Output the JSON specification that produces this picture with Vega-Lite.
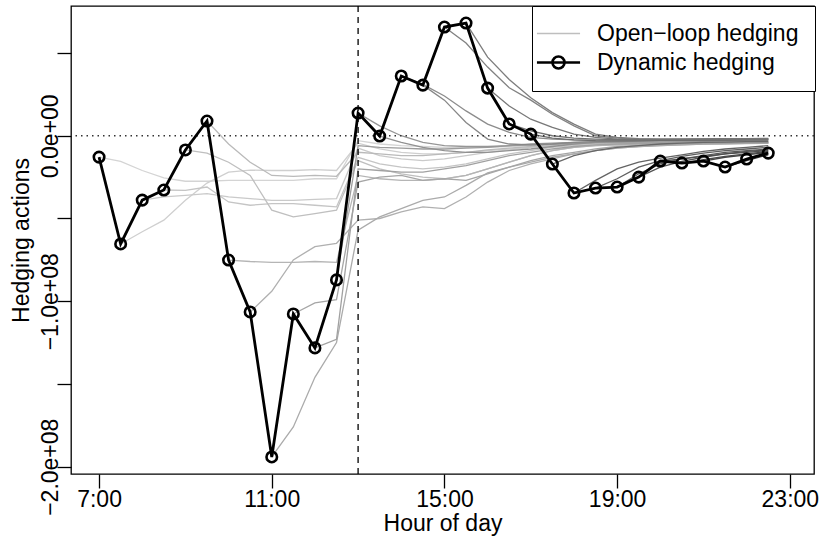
{
"$schema":"https://vega.github.io/schema/vega-lite/v6.json",
"width":743,"height":468,
"autosize":{"type":"none"},
"padding":{"left":71,"top":6,"right":7,"bottom":71},
"background":"white",
"config":{
"view":{"stroke":"black","strokeWidth":1.3},
"font":"Liberation Sans",
"axis":{"grid":false,"domain":false,"tickColor":"black","tickWidth":1.3,"tickSize":14,"labelFont":"Liberation Sans","labelFontSize":23,"labelColor":"black","titleFont":"Liberation Sans","titleFontSize":23,"titleFontWeight":"normal","titleColor":"black"}
},
"data":{"values":[{}]},
"datasets":{
"dyn":[
{"kind":"Dynamic hedging","t":7,"v":-0.129e8},{"kind":"Dynamic hedging","t":7.5,"v":-0.654e8},{"kind":"Dynamic hedging","t":8,"v":-0.389e8},{"kind":"Dynamic hedging","t":8.5,"v":-0.328e8},
{"kind":"Dynamic hedging","t":9,"v":-0.086e8},{"kind":"Dynamic hedging","t":9.5,"v":0.089e8},{"kind":"Dynamic hedging","t":10,"v":-0.751e8},{"kind":"Dynamic hedging","t":10.5,"v":-1.065e8},
{"kind":"Dynamic hedging","t":11,"v":-1.941e8},{"kind":"Dynamic hedging","t":11.5,"v":-1.077e8},{"kind":"Dynamic hedging","t":12,"v":-1.282e8},{"kind":"Dynamic hedging","t":12.5,"v":-0.871e8},
{"kind":"Dynamic hedging","t":13,"v":0.137e8},{"kind":"Dynamic hedging","t":13.5,"v":-0.002e8},{"kind":"Dynamic hedging","t":14,"v":0.361e8},{"kind":"Dynamic hedging","t":14.5,"v":0.306e8},
{"kind":"Dynamic hedging","t":15,"v":0.657e8},{"kind":"Dynamic hedging","t":15.5,"v":0.681e8},{"kind":"Dynamic hedging","t":16,"v":0.288e8},{"kind":"Dynamic hedging","t":16.5,"v":0.071e8},
{"kind":"Dynamic hedging","t":17,"v":0.010e8},{"kind":"Dynamic hedging","t":17.5,"v":-0.171e8},{"kind":"Dynamic hedging","t":18,"v":-0.346e8},{"kind":"Dynamic hedging","t":18.5,"v":-0.316e8},
{"kind":"Dynamic hedging","t":19,"v":-0.310e8},{"kind":"Dynamic hedging","t":19.5,"v":-0.250e8},{"kind":"Dynamic hedging","t":20,"v":-0.153e8},{"kind":"Dynamic hedging","t":20.5,"v":-0.165e8},
{"kind":"Dynamic hedging","t":21,"v":-0.153e8},{"kind":"Dynamic hedging","t":21.5,"v":-0.189e8},{"kind":"Dynamic hedging","t":22,"v":-0.141e8},{"kind":"Dynamic hedging","t":22.5,"v":-0.105e8}
],
"open":[
{"s":7,"t":7,"v":-0.129e8},{"s":7,"t":7.5,"v":-0.155e8},{"s":7,"t":8,"v":-0.21e8},{"s":7,"t":8.5,"v":-0.255e8},{"s":7,"t":9,"v":-0.275e8},{"s":7,"t":9.5,"v":-0.275e8},{"s":7,"t":10,"v":-0.27e8},{"s":7,"t":10.5,"v":-0.27e8},{"s":7,"t":11,"v":-0.27e8},{"s":7,"t":11.5,"v":-0.27e8},{"s":7,"t":12,"v":-0.26e8},{"s":7,"t":12.5,"v":-0.26e8},{"s":7,"t":13,"v":-0.03e8},{"s":7,"t":13.5,"v":-0.05e8},{"s":7,"t":14,"v":-0.06e8},{"s":7,"t":14.5,"v":-0.065e8},{"s":7,"t":15,"v":-0.07e8},{"s":7,"t":15.5,"v":-0.07e8},{"s":7,"t":16,"v":-0.07e8},{"s":7,"t":16.5,"v":-0.065e8},{"s":7,"t":17,"v":-0.06e8},{"s":7,"t":17.5,"v":-0.055e8},{"s":7,"t":18,"v":-0.05e8},{"s":7,"t":18.5,"v":-0.05e8},{"s":7,"t":19,"v":-0.048e8},{"s":7,"t":19.5,"v":-0.047e8},{"s":7,"t":20,"v":-0.046e8},{"s":7,"t":20.5,"v":-0.045e8},{"s":7,"t":21,"v":-0.044e8},{"s":7,"t":21.5,"v":-0.043e8},{"s":7,"t":22,"v":-0.042e8},{"s":7,"t":22.5,"v":-0.041e8},
{"s":7.5,"t":7.5,"v":-0.654e8},{"s":7.5,"t":8,"v":-0.58e8},{"s":7.5,"t":8.5,"v":-0.51e8},{"s":7.5,"t":9,"v":-0.39e8},{"s":7.5,"t":9.5,"v":-0.286e8},{"s":7.5,"t":10,"v":-0.22e8},{"s":7.5,"t":10.5,"v":-0.208e8},{"s":7.5,"t":11,"v":-0.21e8},{"s":7.5,"t":11.5,"v":-0.21e8},{"s":7.5,"t":12,"v":-0.205e8},{"s":7.5,"t":12.5,"v":-0.21e8},{"s":7.5,"t":13,"v":-0.045e8},{"s":7.5,"t":13.5,"v":-0.08e8},{"s":7.5,"t":14,"v":-0.10e8},{"s":7.5,"t":14.5,"v":-0.11e8},{"s":7.5,"t":15,"v":-0.11e8},{"s":7.5,"t":15.5,"v":-0.10e8},{"s":7.5,"t":16,"v":-0.09e8},{"s":7.5,"t":16.5,"v":-0.08e8},{"s":7.5,"t":17,"v":-0.07e8},{"s":7.5,"t":17.5,"v":-0.06e8},{"s":7.5,"t":18,"v":-0.055e8},{"s":7.5,"t":18.5,"v":-0.05e8},{"s":7.5,"t":19,"v":-0.048e8},{"s":7.5,"t":19.5,"v":-0.046e8},{"s":7.5,"t":20,"v":-0.045e8},{"s":7.5,"t":20.5,"v":-0.044e8},{"s":7.5,"t":21,"v":-0.043e8},{"s":7.5,"t":21.5,"v":-0.042e8},{"s":7.5,"t":22,"v":-0.041e8},{"s":7.5,"t":22.5,"v":-0.04e8},
{"s":8,"t":8,"v":-0.389e8},{"s":8,"t":8.5,"v":-0.37e8},{"s":8,"t":9,"v":-0.36e8},{"s":8,"t":9.5,"v":-0.35e8},{"s":8,"t":10,"v":-0.37e8},{"s":8,"t":10.5,"v":-0.38e8},{"s":8,"t":11,"v":-0.39e8},{"s":8,"t":11.5,"v":-0.39e8},{"s":8,"t":12,"v":-0.385e8},{"s":8,"t":12.5,"v":-0.38e8},{"s":8,"t":13,"v":-0.075e8},{"s":8,"t":13.5,"v":-0.12e8},{"s":8,"t":14,"v":-0.14e8},{"s":8,"t":14.5,"v":-0.15e8},{"s":8,"t":15,"v":-0.14e8},{"s":8,"t":15.5,"v":-0.12e8},{"s":8,"t":16,"v":-0.10e8},{"s":8,"t":16.5,"v":-0.085e8},{"s":8,"t":17,"v":-0.07e8},{"s":8,"t":17.5,"v":-0.06e8},{"s":8,"t":18,"v":-0.055e8},{"s":8,"t":18.5,"v":-0.05e8},{"s":8,"t":19,"v":-0.048e8},{"s":8,"t":19.5,"v":-0.046e8},{"s":8,"t":20,"v":-0.045e8},{"s":8,"t":20.5,"v":-0.044e8},{"s":8,"t":21,"v":-0.043e8},{"s":8,"t":21.5,"v":-0.042e8},{"s":8,"t":22,"v":-0.041e8},{"s":8,"t":22.5,"v":-0.04e8},
{"s":8.5,"t":8.5,"v":-0.328e8},{"s":8.5,"t":9,"v":-0.33e8},{"s":8.5,"t":9.5,"v":-0.31e8},{"s":8.5,"t":10,"v":-0.40e8},{"s":8.5,"t":10.5,"v":-0.42e8},{"s":8.5,"t":11,"v":-0.41e8},{"s":8.5,"t":11.5,"v":-0.41e8},{"s":8.5,"t":12,"v":-0.42e8},{"s":8.5,"t":12.5,"v":-0.43e8},{"s":8.5,"t":13,"v":-0.13e8},{"s":8.5,"t":13.5,"v":-0.17e8},{"s":8.5,"t":14,"v":-0.19e8},{"s":8.5,"t":14.5,"v":-0.20e8},{"s":8.5,"t":15,"v":-0.19e8},{"s":8.5,"t":15.5,"v":-0.17e8},{"s":8.5,"t":16,"v":-0.14e8},{"s":8.5,"t":16.5,"v":-0.11e8},{"s":8.5,"t":17,"v":-0.09e8},{"s":8.5,"t":17.5,"v":-0.07e8},{"s":8.5,"t":18,"v":-0.06e8},{"s":8.5,"t":18.5,"v":-0.055e8},{"s":8.5,"t":19,"v":-0.05e8},{"s":8.5,"t":19.5,"v":-0.048e8},{"s":8.5,"t":20,"v":-0.047e8},{"s":8.5,"t":20.5,"v":-0.046e8},{"s":8.5,"t":21,"v":-0.045e8},{"s":8.5,"t":21.5,"v":-0.044e8},{"s":8.5,"t":22,"v":-0.043e8},{"s":8.5,"t":22.5,"v":-0.042e8},
{"s":9,"t":9,"v":-0.086e8},{"s":9,"t":9.5,"v":-0.105e8},{"s":9,"t":10,"v":-0.16e8},{"s":9,"t":10.5,"v":-0.24e8},{"s":9,"t":11,"v":-0.45e8},{"s":9,"t":11.5,"v":-0.49e8},{"s":9,"t":12,"v":-0.47e8},{"s":9,"t":12.5,"v":-0.45e8},{"s":9,"t":13,"v":-0.15e8},{"s":9,"t":13.5,"v":-0.20e8},{"s":9,"t":14,"v":-0.23e8},{"s":9,"t":14.5,"v":-0.25e8},{"s":9,"t":15,"v":-0.26e8},{"s":9,"t":15.5,"v":-0.24e8},{"s":9,"t":16,"v":-0.20e8},{"s":9,"t":16.5,"v":-0.16e8},{"s":9,"t":17,"v":-0.12e8},{"s":9,"t":17.5,"v":-0.09e8},{"s":9,"t":18,"v":-0.07e8},{"s":9,"t":18.5,"v":-0.06e8},{"s":9,"t":19,"v":-0.055e8},{"s":9,"t":19.5,"v":-0.05e8},{"s":9,"t":20,"v":-0.048e8},{"s":9,"t":20.5,"v":-0.047e8},{"s":9,"t":21,"v":-0.046e8},{"s":9,"t":21.5,"v":-0.045e8},{"s":9,"t":22,"v":-0.044e8},{"s":9,"t":22.5,"v":-0.043e8},
{"s":9.5,"t":9.5,"v":0.089e8},{"s":9.5,"t":10,"v":-0.05e8},{"s":9.5,"t":10.5,"v":-0.16e8},{"s":9.5,"t":11,"v":-0.24e8},{"s":9.5,"t":11.5,"v":-0.245e8},{"s":9.5,"t":12,"v":-0.24e8},{"s":9.5,"t":12.5,"v":-0.245e8},{"s":9.5,"t":13,"v":-0.10e8},{"s":9.5,"t":13.5,"v":-0.11e8},{"s":9.5,"t":14,"v":-0.12e8},{"s":9.5,"t":14.5,"v":-0.12e8},{"s":9.5,"t":15,"v":-0.11e8},{"s":9.5,"t":15.5,"v":-0.10e8},{"s":9.5,"t":16,"v":-0.085e8},{"s":9.5,"t":16.5,"v":-0.075e8},{"s":9.5,"t":17,"v":-0.065e8},{"s":9.5,"t":17.5,"v":-0.055e8},{"s":9.5,"t":18,"v":-0.05e8},{"s":9.5,"t":18.5,"v":-0.046e8},{"s":9.5,"t":19,"v":-0.044e8},{"s":9.5,"t":19.5,"v":-0.042e8},{"s":9.5,"t":20,"v":-0.041e8},{"s":9.5,"t":20.5,"v":-0.04e8},{"s":9.5,"t":21,"v":-0.039e8},{"s":9.5,"t":21.5,"v":-0.038e8},{"s":9.5,"t":22,"v":-0.037e8},{"s":9.5,"t":22.5,"v":-0.036e8},
{"s":10,"t":10,"v":-0.751e8},{"s":10,"t":10.5,"v":-0.76e8},{"s":10,"t":11,"v":-0.765e8},{"s":10,"t":11.5,"v":-0.765e8},{"s":10,"t":12,"v":-0.76e8},{"s":10,"t":12.5,"v":-0.765e8},{"s":10,"t":13,"v":-0.24e8},{"s":10,"t":13.5,"v":-0.26e8},{"s":10,"t":14,"v":-0.27e8},{"s":10,"t":14.5,"v":-0.27e8},{"s":10,"t":15,"v":-0.26e8},{"s":10,"t":15.5,"v":-0.24e8},{"s":10,"t":16,"v":-0.20e8},{"s":10,"t":16.5,"v":-0.16e8},{"s":10,"t":17,"v":-0.12e8},{"s":10,"t":17.5,"v":-0.09e8},{"s":10,"t":18,"v":-0.07e8},{"s":10,"t":18.5,"v":-0.06e8},{"s":10,"t":19,"v":-0.055e8},{"s":10,"t":19.5,"v":-0.05e8},{"s":10,"t":20,"v":-0.048e8},{"s":10,"t":20.5,"v":-0.047e8},{"s":10,"t":21,"v":-0.046e8},{"s":10,"t":21.5,"v":-0.045e8},{"s":10,"t":22,"v":-0.044e8},{"s":10,"t":22.5,"v":-0.043e8},
{"s":10.5,"t":10.5,"v":-1.065e8},{"s":10.5,"t":11,"v":-0.94e8},{"s":10.5,"t":11.5,"v":-0.75e8},{"s":10.5,"t":12,"v":-0.67e8},{"s":10.5,"t":12.5,"v":-0.65e8},{"s":10.5,"t":13,"v":-0.51e8},{"s":10.5,"t":13.5,"v":-0.50e8},{"s":10.5,"t":14,"v":-0.46e8},{"s":10.5,"t":14.5,"v":-0.43e8},{"s":10.5,"t":15,"v":-0.44e8},{"s":10.5,"t":15.5,"v":-0.37e8},{"s":10.5,"t":16,"v":-0.28e8},{"s":10.5,"t":16.5,"v":-0.21e8},{"s":10.5,"t":17,"v":-0.17e8},{"s":10.5,"t":17.5,"v":-0.14e8},{"s":10.5,"t":18,"v":-0.11e8},{"s":10.5,"t":18.5,"v":-0.09e8},{"s":10.5,"t":19,"v":-0.075e8},{"s":10.5,"t":19.5,"v":-0.065e8},{"s":10.5,"t":20,"v":-0.06e8},{"s":10.5,"t":20.5,"v":-0.055e8},{"s":10.5,"t":21,"v":-0.05e8},{"s":10.5,"t":21.5,"v":-0.05e8},{"s":10.5,"t":22,"v":-0.048e8},{"s":10.5,"t":22.5,"v":-0.046e8},
{"s":11,"t":11,"v":-1.941e8},{"s":11,"t":11.5,"v":-1.76e8},{"s":11,"t":12,"v":-1.46e8},{"s":11,"t":12.5,"v":-1.25e8},{"s":11,"t":13,"v":-0.57e8},{"s":11,"t":13.5,"v":-0.49e8},{"s":11,"t":14,"v":-0.44e8},{"s":11,"t":14.5,"v":-0.39e8},{"s":11,"t":15,"v":-0.37e8},{"s":11,"t":15.5,"v":-0.30e8},{"s":11,"t":16,"v":-0.225e8},{"s":11,"t":16.5,"v":-0.19e8},{"s":11,"t":17,"v":-0.16e8},{"s":11,"t":17.5,"v":-0.13e8},{"s":11,"t":18,"v":-0.11e8},{"s":11,"t":18.5,"v":-0.09e8},{"s":11,"t":19,"v":-0.075e8},{"s":11,"t":19.5,"v":-0.065e8},{"s":11,"t":20,"v":-0.06e8},{"s":11,"t":20.5,"v":-0.055e8},{"s":11,"t":21,"v":-0.05e8},{"s":11,"t":21.5,"v":-0.048e8},{"s":11,"t":22,"v":-0.046e8},{"s":11,"t":22.5,"v":-0.045e8},
{"s":11.5,"t":11.5,"v":-1.077e8},{"s":11.5,"t":12,"v":-1.01e8},{"s":11.5,"t":12.5,"v":-0.99e8},{"s":11.5,"t":13,"v":-0.28e8},{"s":11.5,"t":13.5,"v":-0.25e8},{"s":11.5,"t":14,"v":-0.24e8},{"s":11.5,"t":14.5,"v":-0.27e8},{"s":11.5,"t":15,"v":-0.26e8},{"s":11.5,"t":15.5,"v":-0.27e8},{"s":11.5,"t":16,"v":-0.23e8},{"s":11.5,"t":16.5,"v":-0.19e8},{"s":11.5,"t":17,"v":-0.15e8},{"s":11.5,"t":17.5,"v":-0.12e8},{"s":11.5,"t":18,"v":-0.10e8},{"s":11.5,"t":18.5,"v":-0.08e8},{"s":11.5,"t":19,"v":-0.065e8},{"s":11.5,"t":19.5,"v":-0.058e8},{"s":11.5,"t":20,"v":-0.054e8},{"s":11.5,"t":20.5,"v":-0.05e8},{"s":11.5,"t":21,"v":-0.048e8},{"s":11.5,"t":21.5,"v":-0.046e8},{"s":11.5,"t":22,"v":-0.045e8},{"s":11.5,"t":22.5,"v":-0.044e8},
{"s":12,"t":12,"v":-1.282e8},{"s":12,"t":12.5,"v":-1.23e8},{"s":12,"t":13,"v":-0.20e8},{"s":12,"t":13.5,"v":-0.21e8},{"s":12,"t":14,"v":-0.22e8},{"s":12,"t":14.5,"v":-0.22e8},{"s":12,"t":15,"v":-0.20e8},{"s":12,"t":15.5,"v":-0.18e8},{"s":12,"t":16,"v":-0.15e8},{"s":12,"t":16.5,"v":-0.12e8},{"s":12,"t":17,"v":-0.10e8},{"s":12,"t":17.5,"v":-0.08e8},{"s":12,"t":18,"v":-0.065e8},{"s":12,"t":18.5,"v":-0.055e8},{"s":12,"t":19,"v":-0.05e8},{"s":12,"t":19.5,"v":-0.047e8},{"s":12,"t":20,"v":-0.045e8},{"s":12,"t":20.5,"v":-0.044e8},{"s":12,"t":21,"v":-0.043e8},{"s":12,"t":21.5,"v":-0.042e8},{"s":12,"t":22,"v":-0.041e8},{"s":12,"t":22.5,"v":-0.04e8},
{"s":12.5,"t":12.5,"v":-0.871e8},{"s":12.5,"t":13,"v":-0.06e8},{"s":12.5,"t":13.5,"v":-0.07e8},{"s":12.5,"t":14,"v":-0.075e8},{"s":12.5,"t":14.5,"v":-0.08e8},{"s":12.5,"t":15,"v":-0.08e8},{"s":12.5,"t":15.5,"v":-0.075e8},{"s":12.5,"t":16,"v":-0.07e8},{"s":12.5,"t":16.5,"v":-0.06e8},{"s":12.5,"t":17,"v":-0.055e8},{"s":12.5,"t":17.5,"v":-0.05e8},{"s":12.5,"t":18,"v":-0.045e8},{"s":12.5,"t":18.5,"v":-0.042e8},{"s":12.5,"t":19,"v":-0.04e8},{"s":12.5,"t":19.5,"v":-0.039e8},{"s":12.5,"t":20,"v":-0.038e8},{"s":12.5,"t":20.5,"v":-0.037e8},{"s":12.5,"t":21,"v":-0.036e8},{"s":12.5,"t":21.5,"v":-0.035e8},{"s":12.5,"t":22,"v":-0.034e8},{"s":12.5,"t":22.5,"v":-0.033e8},
{"s":13,"t":13,"v":0.137e8},{"s":13,"t":13.5,"v":0.06e8},{"s":13,"t":14,"v":0},{"s":13,"t":14.5,"v":-0.04e8},{"s":13,"t":15,"v":-0.06e8},{"s":13,"t":15.5,"v":-0.065e8},{"s":13,"t":16,"v":-0.065e8},{"s":13,"t":16.5,"v":-0.06e8},{"s":13,"t":17,"v":-0.05e8},{"s":13,"t":17.5,"v":-0.045e8},{"s":13,"t":18,"v":-0.04e8},{"s":13,"t":18.5,"v":-0.035e8},{"s":13,"t":19,"v":-0.032e8},{"s":13,"t":19.5,"v":-0.03e8},{"s":13,"t":20,"v":-0.028e8},{"s":13,"t":20.5,"v":-0.027e8},{"s":13,"t":21,"v":-0.026e8},{"s":13,"t":21.5,"v":-0.025e8},{"s":13,"t":22,"v":-0.024e8},{"s":13,"t":22.5,"v":-0.023e8},
{"s":13.5,"t":13.5,"v":-0.002e8},{"s":13.5,"t":14,"v":-0.04e8},{"s":13.5,"t":14.5,"v":-0.07e8},{"s":13.5,"t":15,"v":-0.09e8},{"s":13.5,"t":15.5,"v":-0.10e8},{"s":13.5,"t":16,"v":-0.10e8},{"s":13.5,"t":16.5,"v":-0.09e8},{"s":13.5,"t":17,"v":-0.08e8},{"s":13.5,"t":17.5,"v":-0.065e8},{"s":13.5,"t":18,"v":-0.05e8},{"s":13.5,"t":18.5,"v":-0.04e8},{"s":13.5,"t":19,"v":-0.035e8},{"s":13.5,"t":19.5,"v":-0.032e8},{"s":13.5,"t":20,"v":-0.03e8},{"s":13.5,"t":20.5,"v":-0.029e8},{"s":13.5,"t":21,"v":-0.028e8},{"s":13.5,"t":21.5,"v":-0.027e8},{"s":13.5,"t":22,"v":-0.026e8},{"s":13.5,"t":22.5,"v":-0.025e8},
{"s":14,"t":14,"v":0.361e8},{"s":14,"t":14.5,"v":0.31e8},{"s":14,"t":15,"v":0.24e8},{"s":14,"t":15.5,"v":0.15e8},{"s":14,"t":16,"v":0.07e8},{"s":14,"t":16.5,"v":0.02e8},{"s":14,"t":17,"v":-0.01e8},{"s":14,"t":17.5,"v":-0.02e8},{"s":14,"t":18,"v":-0.025e8},{"s":14,"t":18.5,"v":-0.027e8},{"s":14,"t":19,"v":-0.027e8},{"s":14,"t":19.5,"v":-0.026e8},{"s":14,"t":20,"v":-0.025e8},{"s":14,"t":20.5,"v":-0.024e8},{"s":14,"t":21,"v":-0.023e8},{"s":14,"t":21.5,"v":-0.022e8},{"s":14,"t":22,"v":-0.021e8},{"s":14,"t":22.5,"v":-0.02e8},
{"s":14.5,"t":14.5,"v":0.306e8},{"s":14.5,"t":15,"v":0.215e8},{"s":14.5,"t":15.5,"v":0.08e8},{"s":14.5,"t":16,"v":-0.02e8},{"s":14.5,"t":16.5,"v":-0.05e8},{"s":14.5,"t":17,"v":-0.055e8},{"s":14.5,"t":17.5,"v":-0.05e8},{"s":14.5,"t":18,"v":-0.04e8},{"s":14.5,"t":18.5,"v":-0.035e8},{"s":14.5,"t":19,"v":-0.032e8},{"s":14.5,"t":19.5,"v":-0.03e8},{"s":14.5,"t":20,"v":-0.029e8},{"s":14.5,"t":20.5,"v":-0.028e8},{"s":14.5,"t":21,"v":-0.027e8},{"s":14.5,"t":21.5,"v":-0.026e8},{"s":14.5,"t":22,"v":-0.025e8},{"s":14.5,"t":22.5,"v":-0.024e8},
{"s":15,"t":15,"v":0.657e8},{"s":15,"t":15.5,"v":0.56e8},{"s":15,"t":16,"v":0.415e8},{"s":15,"t":16.5,"v":0.29e8},{"s":15,"t":17,"v":0.215e8},{"s":15,"t":17.5,"v":0.13e8},{"s":15,"t":18,"v":0.06e8},{"s":15,"t":18.5,"v":0},{"s":15,"t":19,"v":-0.015e8},{"s":15,"t":19.5,"v":-0.02e8},{"s":15,"t":20,"v":-0.02e8},{"s":15,"t":20.5,"v":-0.02e8},{"s":15,"t":21,"v":-0.019e8},{"s":15,"t":21.5,"v":-0.018e8},{"s":15,"t":22,"v":-0.018e8},{"s":15,"t":22.5,"v":-0.017e8},
{"s":15.5,"t":15.5,"v":0.681e8},{"s":15.5,"t":16,"v":0.475e8},{"s":15.5,"t":16.5,"v":0.34e8},{"s":15.5,"t":17,"v":0.23e8},{"s":15.5,"t":17.5,"v":0.14e8},{"s":15.5,"t":18,"v":0.07e8},{"s":15.5,"t":18.5,"v":0.01e8},{"s":15.5,"t":19,"v":-0.01e8},{"s":15.5,"t":19.5,"v":-0.018e8},{"s":15.5,"t":20,"v":-0.02e8},{"s":15.5,"t":20.5,"v":-0.02e8},{"s":15.5,"t":21,"v":-0.019e8},{"s":15.5,"t":21.5,"v":-0.018e8},{"s":15.5,"t":22,"v":-0.017e8},{"s":15.5,"t":22.5,"v":-0.016e8},
{"s":16,"t":16,"v":0.288e8},{"s":16,"t":16.5,"v":0.18e8},{"s":16,"t":17,"v":0.10e8},{"s":16,"t":17.5,"v":0.05e8},{"s":16,"t":18,"v":0.01e8},{"s":16,"t":18.5,"v":-0.01e8},{"s":16,"t":19,"v":-0.02e8},{"s":16,"t":19.5,"v":-0.022e8},{"s":16,"t":20,"v":-0.022e8},{"s":16,"t":20.5,"v":-0.021e8},{"s":16,"t":21,"v":-0.02e8},{"s":16,"t":21.5,"v":-0.02e8},{"s":16,"t":22,"v":-0.019e8},{"s":16,"t":22.5,"v":-0.018e8},
{"s":16.5,"t":16.5,"v":0.071e8},{"s":16.5,"t":17,"v":0.03e8},{"s":16.5,"t":17.5,"v":0},{"s":16.5,"t":18,"v":-0.015e8},{"s":16.5,"t":18.5,"v":-0.02e8},{"s":16.5,"t":19,"v":-0.023e8},{"s":16.5,"t":19.5,"v":-0.024e8},{"s":16.5,"t":20,"v":-0.024e8},{"s":16.5,"t":20.5,"v":-0.023e8},{"s":16.5,"t":21,"v":-0.022e8},{"s":16.5,"t":21.5,"v":-0.021e8},{"s":16.5,"t":22,"v":-0.02e8},{"s":16.5,"t":22.5,"v":-0.02e8},
{"s":17,"t":17,"v":0.01e8},{"s":17,"t":17.5,"v":-0.015e8},{"s":17,"t":18,"v":-0.025e8},{"s":17,"t":18.5,"v":-0.03e8},{"s":17,"t":19,"v":-0.031e8},{"s":17,"t":19.5,"v":-0.031e8},{"s":17,"t":20,"v":-0.03e8},{"s":17,"t":20.5,"v":-0.03e8},{"s":17,"t":21,"v":-0.029e8},{"s":17,"t":21.5,"v":-0.028e8},{"s":17,"t":22,"v":-0.027e8},{"s":17,"t":22.5,"v":-0.026e8},
{"s":17.5,"t":17.5,"v":-0.171e8},{"s":17.5,"t":18,"v":-0.12e8},{"s":17.5,"t":18.5,"v":-0.09e8},{"s":17.5,"t":19,"v":-0.07e8},{"s":17.5,"t":19.5,"v":-0.06e8},{"s":17.5,"t":20,"v":-0.05e8},{"s":17.5,"t":20.5,"v":-0.045e8},{"s":17.5,"t":21,"v":-0.04e8},{"s":17.5,"t":21.5,"v":-0.038e8},{"s":17.5,"t":22,"v":-0.036e8},{"s":17.5,"t":22.5,"v":-0.035e8},
{"s":18,"t":18,"v":-0.346e8},{"s":18,"t":18.5,"v":-0.27e8},{"s":18,"t":19,"v":-0.20e8},{"s":18,"t":19.5,"v":-0.16e8},{"s":18,"t":20,"v":-0.135e8},{"s":18,"t":20.5,"v":-0.115e8},{"s":18,"t":21,"v":-0.095e8},{"s":18,"t":21.5,"v":-0.08e8},{"s":18,"t":22,"v":-0.07e8},{"s":18,"t":22.5,"v":-0.06e8},
{"s":18.5,"t":18.5,"v":-0.316e8},{"s":18.5,"t":19,"v":-0.26e8},{"s":18.5,"t":19.5,"v":-0.19e8},{"s":18.5,"t":20,"v":-0.15e8},{"s":18.5,"t":20.5,"v":-0.125e8},{"s":18.5,"t":21,"v":-0.105e8},{"s":18.5,"t":21.5,"v":-0.09e8},{"s":18.5,"t":22,"v":-0.08e8},{"s":18.5,"t":22.5,"v":-0.07e8},
{"s":19,"t":19,"v":-0.31e8},{"s":19,"t":19.5,"v":-0.23e8},{"s":19,"t":20,"v":-0.17e8},{"s":19,"t":20.5,"v":-0.14e8},{"s":19,"t":21,"v":-0.12e8},{"s":19,"t":21.5,"v":-0.10e8},{"s":19,"t":22,"v":-0.09e8},{"s":19,"t":22.5,"v":-0.08e8},
{"s":19.5,"t":19.5,"v":-0.25e8},{"s":19.5,"t":20,"v":-0.19e8},{"s":19.5,"t":20.5,"v":-0.155e8},{"s":19.5,"t":21,"v":-0.13e8},{"s":19.5,"t":21.5,"v":-0.11e8},{"s":19.5,"t":22,"v":-0.095e8},{"s":19.5,"t":22.5,"v":-0.085e8},
{"s":20,"t":20,"v":-0.153e8},{"s":20,"t":20.5,"v":-0.14e8},{"s":20,"t":21,"v":-0.125e8},{"s":20,"t":21.5,"v":-0.11e8},{"s":20,"t":22,"v":-0.10e8},{"s":20,"t":22.5,"v":-0.09e8},
{"s":20.5,"t":20.5,"v":-0.165e8},{"s":20.5,"t":21,"v":-0.145e8},{"s":20.5,"t":21.5,"v":-0.125e8},{"s":20.5,"t":22,"v":-0.11e8},{"s":20.5,"t":22.5,"v":-0.095e8},
{"s":21,"t":21,"v":-0.153e8},{"s":21,"t":21.5,"v":-0.13e8},{"s":21,"t":22,"v":-0.115e8},{"s":21,"t":22.5,"v":-0.10e8},
{"s":21.5,"t":21.5,"v":-0.189e8},{"s":21.5,"t":22,"v":-0.15e8},{"s":21.5,"t":22.5,"v":-0.115e8},
{"s":22,"t":22,"v":-0.141e8},{"s":22,"t":22.5,"v":-0.105e8}
]
},
"layer":[
{"data":{"name":"open"},
 "mark":{"type":"line","strokeWidth":1.3},
 "encoding":{
  "x":{"field":"t","type":"quantitative","scale":{"domain":[6.35,23.56],"nice":false,"zero":false},
       "axis":{"values":[7,11,15,19,23],"labelExpr":"datum.value + ':00'","title":"Hour of day","labelPadding":0,"titleX":371.5,"titleY":56,"titleBaseline":"alphabetic","titleAlign":"center"}},
  "y":{"field":"v","type":"quantitative","scale":{"domain":[-2.044e8,0.784e8],"nice":false,"zero":false},
       "axis":{"values":[-2e8,-1.5e8,-1e8,-0.5e8,0,0.5e8],"labelExpr":"datum.value == 0 ? '0.0e+00' : datum.value == -1e8 ? '\u22121.0e+08' : datum.value == -2e8 ? '\u22122.0e+08' : ''","labelAngle":270,"labelAlign":"center","labelBaseline":"alphabetic","labelPadding":0,"title":"Hedging actions","titleAngle":270,"titleX":-43,"titleY":234,"titleAlign":"center","titleBaseline":"alphabetic"}},
  "detail":{"field":"s","type":"quantitative"},
  "order":{"field":"t","type":"quantitative"},
  "color":{"field":"s","type":"quantitative","scale":{"domain":[7,22],"range":["#d4d4d4","#3a3a3a"],"interpolate":"rgb"},"legend":null}
 }},
{"mark":{"type":"rule","strokeDash":[6,5],"color":"black","strokeWidth":1.3},
 "encoding":{"x":{"datum":13,"type":"quantitative"}}},
{"mark":{"type":"rule","strokeDash":[1.5,4],"color":"#333333","strokeWidth":1.3},
 "encoding":{"y":{"datum":0,"type":"quantitative"}}},
{"data":{"name":"dyn"},
 "encoding":{
  "x":{"field":"t","type":"quantitative","scale":{"domain":[6.35,23.56],"nice":false,"zero":false}},
  "y":{"field":"v","type":"quantitative","scale":{"domain":[-2.044e8,0.784e8],"nice":false,"zero":false}},
  "color":{"field":"kind","type":"nominal","scale":{"domain":["Open\u2212loop hedging","Dynamic hedging"],"range":["#bebebe","#000000"]},
   "legend":{"orient":"none","legendX":461,"legendY":0,"title":null,"strokeColor":"black","fillColor":"white","padding":16,
     "labelFont":"Liberation Sans","labelFontSize":23,"labelColor":"black","labelLimit":400,
     "symbolType":"M-1.36,0H1.36","symbolSize":1005,"symbolStrokeWidth":1.3,"symbolOffset":-1,"labelOffset":27,"rowPadding":5,
     "encoding":{"symbols":{
        "shape":{"value":{"expr":"datum.value === 'Dynamic hedging' ? 'M-1.36,0H1.36M0.38,0A0.38,0.38,0,1,1,-0.38,0A0.38,0.38,0,1,1,0.38,0' : 'M-1.36,0H1.36'"}},
        "strokeWidth":{"value":{"expr":"datum.value === 'Dynamic hedging' ? 2.6 : 1.3"}},
        "fill":{"value":"transparent"},
        "opacity":{"value":1}}}}}
 },
 "layer":[
  {"mark":{"type":"line","strokeWidth":2.8}},
  {"mark":{"type":"point","shape":"circle","filled":false,"size":110,"strokeWidth":2.6,"opacity":1}}
 ]}
],
"resolve":{"scale":{"color":"independent"}}
}
